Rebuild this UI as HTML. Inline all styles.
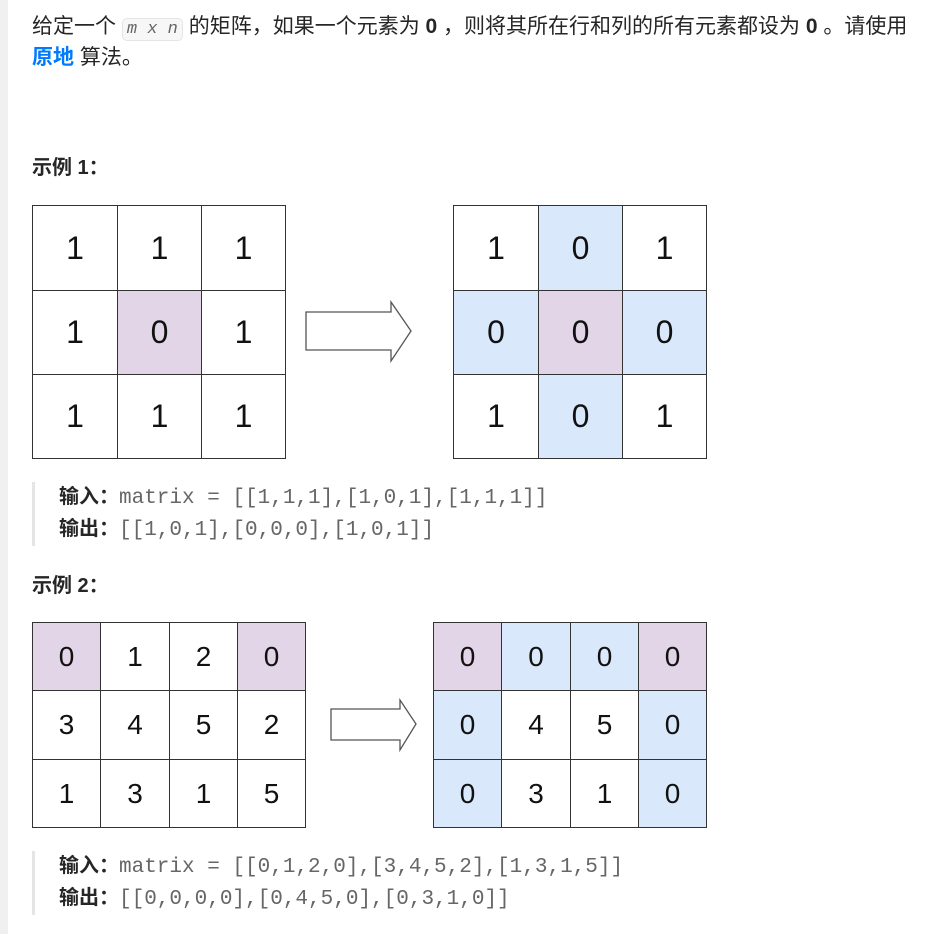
<!DOCTYPE html>
<html><head><meta charset="utf-8"><style>
body{margin:0;width:930px;height:934px;background:#fff;position:relative;overflow:hidden;font-family:"Liberation Sans","Noto Sans CJK SC",sans-serif;color:#262626}
.strip{position:absolute;left:0;top:0;width:8px;height:934px;background:#f0f0f0}
.t{position:absolute;font-size:20px;white-space:nowrap;line-height:26px}
code{font-family:"Liberation Mono",monospace;font-style:italic;color:#666;background:#f7f7f7;border:1px solid #e5e5e5;border-radius:5px;padding:1px 4px;font-size:17px}
.bq{position:absolute;left:32px;border-left:3px solid #e5e5e5;padding-left:24px;font-size:20px;line-height:30px;white-space:nowrap}
.mono{font-family:"Liberation Mono",monospace;color:#666;font-size:21px}
.g{position:absolute;border-collapse:collapse}
.g td{border:1px solid #333;text-align:center;font-family:"Liberation Sans",sans-serif;color:#111;padding:0}
.p{background:#e1d5e7}.b{background:#dae8fc}
</style></head><body>
<div class="strip"></div>
<div class="t" style="left:32px;top:14px;font-size:21px">给定一个 <code>m x n</code> 的矩阵，如果一个元素为 <b>0</b> ，则将其所在行和列的所有元素都设为 <b>0</b> 。请使用</div>
<div class="t" style="left:32px;top:45px;font-size:21px"><b style="color:#007aff">原地</b> 算法。</div>
<div class="t" style="left:32px;top:155px"><b>示例 1：</b></div>

<table class="g" style="left:32px;top:205px;font-size:32px">
<tr><td style="width:84px;height:84px">1</td><td style="width:83px">1</td><td style="width:83px">1</td></tr>
<tr><td style="height:83px">1</td><td class="p">0</td><td>1</td></tr>
<tr><td style="height:83px">1</td><td>1</td><td>1</td></tr></table>
<table class="g" style="left:453px;top:205px;font-size:32px">
<tr><td style="width:84px;height:84px">1</td><td class="b" style="width:83px">0</td><td style="width:83px">1</td></tr>
<tr><td class="b" style="height:83px">0</td><td class="p">0</td><td class="b">0</td></tr>
<tr><td style="height:83px">1</td><td class="b">0</td><td>1</td></tr></table>
<svg style="position:absolute;left:0;top:0" width="930" height="934">
<polygon points="306,312 391,312 391,302 411,331 391,361 391,350 306,350" fill="#fff" stroke="#555" stroke-width="1.3"/>
<polygon points="331,709 400,709 400,700 416,724 400,750 400,740 331,740" fill="#fff" stroke="#555" stroke-width="1.3"/>
</svg>

<div class="bq" style="top:482px"><b>输入：</b><span class="mono">matrix = [[1,1,1],[1,0,1],[1,1,1]]</span><br><b>输出：</b><span class="mono">[[1,0,1],[0,0,0],[1,0,1]]</span></div>
<div class="t" style="left:32px;top:573px"><b>示例 2：</b></div>

<table class="g" style="left:32px;top:622px;font-size:28px">
<tr><td class="p" style="width:67px;height:67px">0</td><td style="width:68px">1</td><td style="width:67px">2</td><td class="p" style="width:67px">0</td></tr>
<tr><td style="height:68px">3</td><td>4</td><td>5</td><td>2</td></tr>
<tr><td style="height:67px">1</td><td>3</td><td>1</td><td>5</td></tr></table>
<table class="g" style="left:433px;top:622px;font-size:28px">
<tr><td class="p" style="width:67px;height:67px">0</td><td class="b" style="width:68px">0</td><td class="b" style="width:67px">0</td><td class="p" style="width:67px">0</td></tr>
<tr><td class="b" style="height:68px">0</td><td>4</td><td>5</td><td class="b">0</td></tr>
<tr><td class="b" style="height:67px">0</td><td>3</td><td>1</td><td class="b">0</td></tr></table>

<div class="bq" style="top:851px"><b>输入：</b><span class="mono">matrix = [[0,1,2,0],[3,4,5,2],[1,3,1,5]]</span><br><b>输出：</b><span class="mono">[[0,0,0,0],[0,4,5,0],[0,3,1,0]]</span></div>
</body></html>
